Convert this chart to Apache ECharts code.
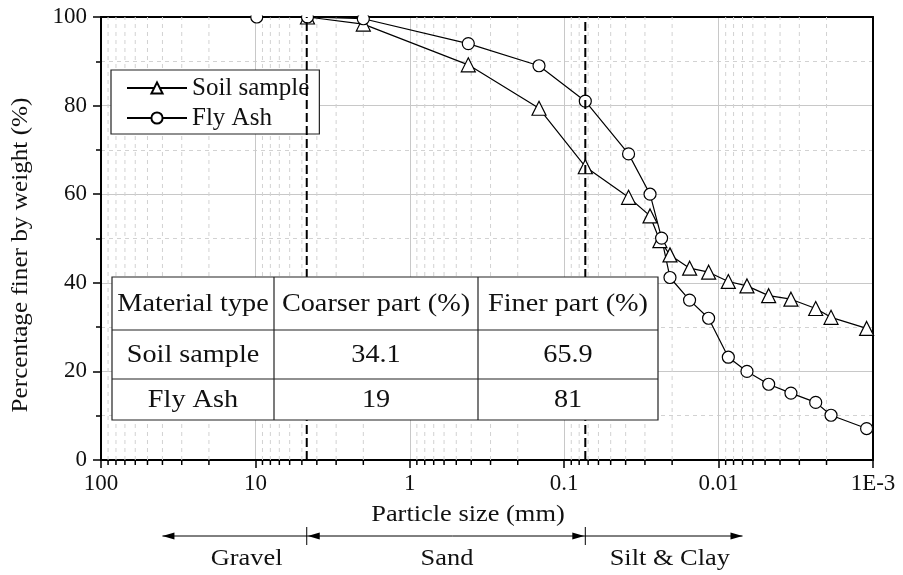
<!DOCTYPE html>
<html><head><meta charset="utf-8">
<script src="https://cdn.jsdelivr.net/npm/echarts@6/dist/echarts.min.js"></script>
<style>html,body{margin:0;padding:0;background:#fff}#c{width:903px;height:575px}</style>
</head><body><div id="c"></div>
<script>
// ---- data ----
const xTickLabels = ['1E-3', '0.01', '0.1', '1', '10', '100']; // exponents -3..2
const yTicks = [0, 20, 40, 60, 80, 100];
const soilX = [4.6, 2.0, 0.418, 0.1456, 0.073, 0.0383, 0.0278, 0.024, 0.02065, 0.0154, 0.0116, 0.00865, 0.00655, 0.00474, 0.0034, 0.00235, 0.00187, 0.0011];
const soilY = [100, 98.4, 89.2, 79.4, 66.2, 59.3, 55.1, 49.5, 46.3, 43.3, 42.4, 40.3, 39.3, 37.1, 36.3, 34.2, 32.2, 29.7];
const flyX = [9.8, 4.6, 2.0, 0.418, 0.1456, 0.073, 0.0383, 0.0278, 0.0234, 0.02065, 0.01542, 0.01161, 0.00865, 0.00655, 0.00474, 0.0034, 0.00235, 0.00187, 0.0011];
const flyY = [100, 100, 99.6, 94, 89, 81, 69.1, 60, 50.1, 41.2, 36.1, 32, 23.2, 20, 17.1, 15.1, 13, 10.1, 7.1];
const boundaries = [4.65, 0.073];           // gravel/sand, sand/fines (mm)
const rangeEnds = [40, 0.007];              // outer ends of the classification arrows (mm)
const classNames = ['Gravel', 'Sand', 'Silt & Clay'];
const classLabelX = [11.4, 0.574, 0.0207];  // label centres (mm)
const xTitle = 'Particle size (mm)';
const xTitleAt = 0.42;                      // title centre (mm)
const yTitle = 'Percentage finer by weight (%)';
const tableHeader = ['Material type', 'Coarser part (%)', 'Finer part (%)'];
const tableRows = [['Soil sample', '34.1', '65.9'], ['Fly Ash', '19', '81']];
const seriesNames = ['Soil sample', 'Fly Ash'];

// minor log positions 2..9 x 10^n
const minorX = [];
for (let e = -3; e <= 1; e++) for (let k = 2; k <= 9; k++) minorX.push(k * Math.pow(10, e));

const FONT = 'Liberation Serif';
const chart = echarts.init(document.getElementById('c'));

function zip(xs, ys) { return xs.map((x, i) => [x, ys[i]]); }

// table graphics
const colX = [112, 274, 478, 658];
const rowY = [277, 330, 379, 420];
const LZ = { zlevel: 1, z: 10 };
const tableEls = [Object.assign({
  type: 'rect', shape: { x: colX[0], y: rowY[0], width: colX[3] - colX[0], height: rowY[3] - rowY[0] },
  style: { fill: '#fff', stroke: '#222', lineWidth: 1.2 }
}, LZ)];
for (let i = 1; i < 3; i++) {
  tableEls.push(Object.assign({ type: 'line', shape: { x1: colX[i], y1: rowY[0], x2: colX[i], y2: rowY[3] }, style: { stroke: '#222', lineWidth: 1.2 } }, LZ, { z: 11 }));
  tableEls.push(Object.assign({ type: 'line', shape: { x1: colX[0], y1: rowY[i], x2: colX[3], y2: rowY[i] }, style: { stroke: '#222', lineWidth: 1.2 } }, LZ, { z: 11 }));
}
const allRows = [tableHeader].concat(tableRows);
allRows.forEach((row, r) => {
  row.forEach((t, c) => {
    tableEls.push(Object.assign({
      type: 'text', x: (colX[c] + colX[c + 1]) / 2, y: (rowY[r] + rowY[r + 1]) / 2 + 1, scaleX: 1.13,
      style: { text: t, font: '25px "' + FONT + '"', fill: '#111', textAlign: 'center', textVerticalAlign: 'middle' }
    }, LZ, { z: 12 }));
  });
});

const option = {
  animation: false,
  backgroundColor: '#fff',
  grid: { left: 101, right: 30, top: 17, bottom: 115, containLabel: false },
  legend: {
    data: seriesNames, orient: 'vertical', left: 111, top: 70, z: 4,
    backgroundColor: '#fff', borderColor: '#222', borderWidth: 1.2, borderRadius: 0,
    padding: [5, 10, 3, 15], itemWidth: 60, itemHeight: 14, itemGap: 4,
    textStyle: { fontFamily: FONT, fontSize: 25, lineHeight: 26, color: '#111' }
  },
  xAxis: [{
    type: 'log', logBase: 10, min: 0.001, max: 100, inverse: true,
    axisLine: { show: true, lineStyle: { color: '#000', width: 2 } },
    axisTick: { show: true, length: 8, lineStyle: { color: '#000', width: 1.5 } },
    axisLabel: {
      margin: 12, fontFamily: FONT, fontSize: 23, color: '#111', showMinLabel: true, showMaxLabel: true,
      formatter: v => xTickLabels[Math.round(Math.log10(v)) + 3]
    },
    splitLine: { show: true, lineStyle: { color: '#c8c8c8', width: 1 } }
  }, {
    type: 'value', position: 'top', min: 0, max: 1,
    axisLine: { show: true, onZero: false, lineStyle: { color: '#000', width: 2 } },
    axisTick: { show: false }, axisLabel: { show: false }, splitLine: { show: false }
  }],
  yAxis: [{
    type: 'value', min: 0, max: 100, interval: 20,
    axisLine: { show: true, lineStyle: { color: '#000', width: 2 } },
    axisTick: { show: true, length: 8, lineStyle: { color: '#000', width: 1.5 } },
    minorTick: { show: true, splitNumber: 2, length: 5, lineStyle: { color: '#000', width: 1.5 } },
    axisLabel: { margin: 14, fontFamily: FONT, fontSize: 23, color: '#111',
      formatter: v => (yTicks.indexOf(v) >= 0 ? String(v) : '') },
    splitLine: { show: true, lineStyle: { color: '#c8c8c8', width: 1 } },
    minorSplitLine: { show: true, lineStyle: { color: '#d2d2d2', width: 1, type: [4, 4] } }
  }, {
    type: 'value', position: 'right', min: 0, max: 1,
    axisLine: { show: true, onZero: false, lineStyle: { color: '#000', width: 2 } },
    axisTick: { show: false }, axisLabel: { show: false }, splitLine: { show: false }
  }],
  series: [
    { // minor vertical grid + minor ticks
      type: 'custom', name: 'minorGrid', z: 1, clip: false, silent: true,
      data: minorX.map(v => [v, 0]), encode: { x: 0, y: 1 },
      renderItem: (params, api) => {
        const p0 = api.coord([api.value(0), 0]);
        const p1 = api.coord([api.value(0), 100]);
        return { type: 'group', children: [
          { type: 'line', shape: { x1: p0[0], y1: p0[1], x2: p1[0], y2: p1[1] }, style: { stroke: '#d2d2d2', lineWidth: 1, lineDash: [4, 4] } },
          { type: 'line', shape: { x1: p0[0], y1: p0[1], x2: p0[0], y2: p0[1] + 5 }, style: { stroke: '#000', lineWidth: 1.5 } }
        ] };
      }
    },
    { // classification boundaries
      type: 'custom', name: 'boundaries', z: 5, clip: false, silent: true,
      data: boundaries.map(v => [v, 0]), encode: { x: 0, y: 1 },
      renderItem: (params, api) => {
        const p0 = api.coord([api.value(0), 0]);
        const p1 = api.coord([api.value(0), 100]);
        return { type: 'line', shape: { x1: p0[0], y1: p0[1], x2: p1[0], y2: p1[1] }, style: { stroke: '#000', lineWidth: 2, lineDash: [9, 4] } };
      }
    },
    { // classification arrows and titles below axis
      type: 'custom', name: 'classes', z: 2, clip: false, silent: true,
      data: [[1, 0]], encode: { x: 0, y: 1 },
      renderItem: (params, api) => {
        const y0 = api.coord([1, 0])[1];
        const ya = y0 + 76;
        const bx = boundaries.map(v => api.coord([v, 0])[0]);
        const ex = rangeEnds.map(v => api.coord([v, 0])[0]);
        const st = { stroke: '#000', lineWidth: 1 };
        const head = (x, dir) => ({ type: 'polygon', shape: { points: [[x, ya], [x - dir * 12, ya - 3.5], [x - dir * 12, ya + 3.5]] }, style: { fill: '#000' } });
        const ch = [
          { type: 'line', shape: { x1: ex[0], y1: ya, x2: ex[1], y2: ya }, style: st },
          { type: 'line', shape: { x1: bx[0], y1: ya - 9, x2: bx[0], y2: ya + 9 }, style: st },
          { type: 'line', shape: { x1: bx[1], y1: ya - 9, x2: bx[1], y2: ya + 9 }, style: st },
          head(ex[0], -1), head(bx[0] + 1, -1), head(bx[1] - 1, 1), head(ex[1], 1)
        ];
        classNames.forEach((n, i) => {
          ch.push({ type: 'text', x: api.coord([classLabelX[i], 0])[0], y: y0 + 99, scaleX: 1.1,
            style: { text: n, font: '24px "' + FONT + '"', fill: '#111', textAlign: 'center', textVerticalAlign: 'middle' } });
        });
        ch.push({ type: 'text', x: api.coord([xTitleAt, 0])[0], y: y0 + 55, scaleX: 1.1,
          style: { text: xTitle, font: '24px "' + FONT + '"', fill: '#111', textAlign: 'center', textVerticalAlign: 'middle' } });
        return { type: 'group', children: ch };
      }
    },
    {
      type: 'line', name: seriesNames[0], data: zip(soilX, soilY), z: 3,
      symbol: 'triangle', symbolSize: 14, showAllSymbol: true,
      lineStyle: { color: '#000', width: 1.2 },
      itemStyle: { color: '#fff', borderColor: '#000', borderWidth: 1.2 }
    },
    {
      type: 'line', name: seriesNames[1], data: zip(flyX, flyY), z: 3,
      symbol: 'circle', symbolSize: 12, showAllSymbol: true,
      lineStyle: { color: '#000', width: 1.2 },
      itemStyle: { color: '#fff', borderColor: '#000', borderWidth: 1.2 }
    }
  ],
  graphic: {
    elements: [
      { type: 'rect', zlevel: 1, z: 5, silent: true, shape: { x: 102, y: 0, width: 770, height: 15.5 }, style: { fill: '#fff' } }
    ].concat(tableEls).concat([
      { type: 'text', zlevel: 1, z: 10, x: 21, y: 255, rotation: Math.PI / 2, scaleX: 1.05,
        style: { text: yTitle, font: '24px "' + FONT + '"', fill: '#111', textAlign: 'center', textVerticalAlign: 'middle' } }
    ])
  }
};
chart.setOption(option);
</script></body></html>
